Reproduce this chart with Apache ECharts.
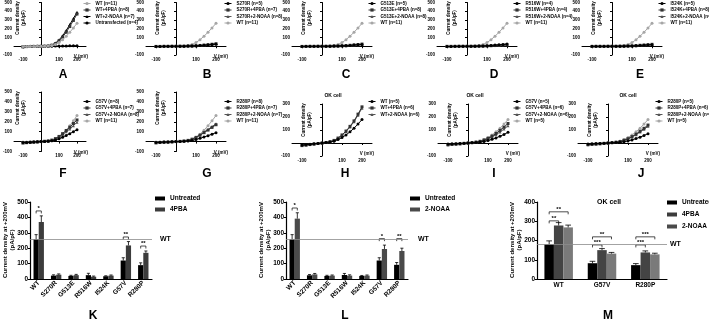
<!DOCTYPE html>
<html>
<head>
<meta charset="UTF-8">
<script src="https://cdn.jsdelivr.net/npm/echarts/dist/echarts.min.js"></script>
<style>
html, body { margin: 0; padding: 0; background: #fff; }
#main { width: 709px; height: 321px; }
</style>
</head>
<body>
<div id="main"></div>
<script type="text/javascript">
// membrane potential steps (mV)
var volts = [-100, -80, -60, -40, -20, 0, 20, 40, 60, 80, 100, 120, 140, 160, 180, 200];

// HEK cells, current density (pA/pF)
var wt11 = [-4, -3, -2, -2, -1, 0, 1, 3, 8, 20, 42, 75, 115, 160, 210, 262];
var wt4pba = [-5, -4, -3, -2, -1, 0, 1, 4, 12, 30, 62, 105, 160, 225, 295, 368];
var wt2noaa = [-5, -4, -3, -2, -1, 0, 2, 5, 15, 36, 72, 120, 180, 248, 318, 388];
var untransfected = [-2, -2, -1, -1, 0, 0, 0, 1, 1, 2, 2, 3, 4, 5, 6, 7];

var s270r = [-2, -2, -1, -1, 0, 0, 0, 1, 2, 3, 5, 8, 11, 15, 19, 24];
var s270r4pba = [-2, -2, -1, -1, 0, 0, 1, 1, 2, 4, 6, 9, 13, 18, 23, 29];
var s270r2noaa = [-2, -2, -1, -1, 0, 0, 1, 1, 2, 4, 7, 10, 14, 19, 24, 30];
var g513e = [-2, -1, -1, -1, 0, 0, 0, 1, 2, 3, 5, 7, 10, 13, 17, 21];
var g513e4pba = [-2, -2, -1, -1, 0, 0, 0, 1, 2, 3, 5, 8, 11, 15, 20, 25];
var g513e2noaa = [-2, -2, -1, -1, 0, 0, 0, 1, 2, 3, 5, 7, 10, 14, 18, 22];
var r516w = [-2, -2, -1, -1, 0, 0, 1, 1, 2, 4, 6, 9, 13, 17, 21, 26];
var r516w4pba = [-1, -1, -1, 0, 0, 0, 0, 1, 1, 2, 4, 6, 8, 10, 13, 15];
var r516w2noaa = [-2, -2, -1, -1, 0, 0, 0, 1, 2, 3, 5, 8, 11, 15, 19, 23];
var i524k = [-1, -1, -1, -1, 0, 0, 0, 1, 1, 2, 4, 6, 9, 12, 15, 18];
var i524k4pba = [-2, -1, -1, -1, 0, 0, 0, 1, 2, 3, 5, 8, 11, 14, 18, 22];
var i524k2noaa = [-2, -1, -1, -1, 0, 0, 0, 1, 2, 3, 5, 7, 10, 14, 17, 21];
var g57v = [-10, -8, -6, -4, -2, 0, 2, 4, 8, 16, 28, 44, 62, 80, 100, 120];
var g57v4pba = [-14, -11, -8, -5, -3, 0, 3, 7, 15, 30, 52, 80, 112, 145, 182, 218];
var g57v2noaa = [-12, -10, -7, -5, -2, 0, 3, 6, 13, 26, 46, 70, 98, 128, 160, 195];
var r280p = [-8, -6, -5, -3, -2, 0, 1, 3, 6, 12, 21, 33, 46, 60, 75, 90];
var r280p4pba = [-12, -9, -7, -5, -2, 0, 2, 6, 12, 24, 42, 64, 90, 116, 143, 170];
var r280p2noaa = [-12, -10, -7, -5, -2, 0, 3, 6, 13, 26, 45, 68, 95, 122, 151, 180];

// OK cells
var okWt = [-15, -12, -9, -6, -3, 0, 3, 7, 14, 26, 42, 62, 86, 114, 146, 180];
var okWt4pba = [-20, -16, -12, -8, -4, 0, 4, 10, 20, 38, 62, 92, 128, 170, 222, 278];
var okWt2noaa = [-20, -16, -12, -8, -4, 0, 4, 10, 19, 36, 60, 88, 124, 164, 214, 268];
var okG57v = [-8, -6, -5, -3, -2, 0, 2, 4, 7, 12, 19, 28, 39, 52, 66, 82];
var okG57v4pba = [-14, -11, -8, -6, -3, 0, 3, 7, 13, 23, 36, 53, 73, 97, 122, 150];
var okG57v2noaa = [-12, -10, -7, -5, -3, 0, 3, 6, 11, 20, 32, 47, 64, 85, 107, 132];
var okR280p = [-7, -6, -4, -3, -1, 0, 1, 3, 6, 10, 16, 24, 34, 45, 58, 72];
var okR280p4pba = [-13, -10, -8, -5, -3, 0, 3, 6, 12, 21, 33, 49, 68, 90, 113, 138];
var okR280p2noaa = [-12, -10, -7, -5, -3, 0, 3, 6, 11, 20, 31, 46, 64, 84, 105, 128];

// bar charts: current density at +200 mV
var kCats = ['WT', 'S270R', 'G513E', 'R516W', 'I524K', 'G57V', 'R280P'];
var kUntreated = [258, 22, 20, 25, 18, 120, 90];
var kUntreatedErr = [30, 5, 4, 12, 3, 18, 15];
var k4pba = [370, 28, 25, 15, 22, 218, 170];
var k4pbaErr = [40, 5, 5, 4, 4, 25, 12];
var kWtRef = 258;
var kSig = [[0, 442, 0, 1], [5, 273, 0, 1], [6, 214, 0, 1]];
var kSigText = ['*', '**', '**'];

var lUntreated = [258, 24, 20, 26, 20, 120, 92];
var lUntreatedErr = [30, 5, 4, 10, 3, 18, 15];
var l2noaa = [392, 30, 22, 22, 22, 195, 182];
var l2noaaErr = [38, 6, 4, 5, 4, 25, 18];
var lWtRef = 258;
var lSig = [[0, 461, 0, 1], [5, 262, 0, 1], [6, 262, 0, 1]];
var lSigText = ['*', '*', '**'];

var mCats = ['WT', 'G57V', 'R280P'];
var mUntreated = [180, 82, 72];
var mUntreatedErr = [18, 10, 8];
var m4pba = [278, 150, 138];
var m4pbaErr = [15, 8, 8];
var m2noaa = [268, 132, 128];
var m2noaaErr = [12, 6, 6];
var mWtRef = 180;
var mSig = [[0, 349, 0, 2], [0, 302, 0, 1], [1, 219, 0, 2], [1, 177, 0, 1], [2, 219, 0, 2], [2, 177, 0, 1]];
var mSigText = ['**', '**', '**', '***', '***', '***'];

var FONT = 'Liberation Sans';
var C_MUT = '#000000', C_4 = '#333333', C_2 = '#555555', C_WT = '#a6a6a6';

var grid = [], xAxis = [], yAxis = [], series = [], legend = [], graphic = [];

function pts(arr) {
    return volts.map(function (v, i) { return [v, arr[i]]; });
}

function txt(x, y, text, size, opts) {
    opts = opts || {};
    graphic.push({
        type: 'text', x: x, y: y, rotation: opts.rot || 0, silent: true,
        style: {
            text: text, font: 'bold ' + size + 'px ' + FONT, fill: '#000',
            textAlign: opts.align || 'center', align: opts.align || 'center',
            textVerticalAlign: 'middle', verticalAlign: 'middle', lineHeight: size + 1
        }
    });
}

function addLinePanel(p) {
    var gi = grid.length;
    grid.push({left: p.x0 - 30, top: p.top, width: 80, height: p.h});
    xAxis.push({
        gridIndex: gi, type: 'value', min: -150, max: 250, interval: 50,
        axisLine: {onZero: true, lineStyle: {color: '#000', width: 1}},
        axisTick: {customValues: [-100, 0, 100, 200], length: 2, lineStyle: {color: '#000'}},
        axisLabel: {customValues: [-100, 100, 200], fontSize: 4.5, fontWeight: 'bold', fontFamily: FONT, color: '#000', margin: 2},
        splitLine: {show: false}
    });
    yAxis.push({
        gridIndex: gi, type: 'value', min: -100, max: p.ymax, interval: 100,
        axisLine: {show: true, onZero: true, lineStyle: {color: '#000', width: 1}},
        axisTick: {show: true, length: 2, lineStyle: {color: '#000'}},
        axisLabel: {fontSize: 4.5, fontWeight: 'bold', fontFamily: FONT, color: '#000', margin: 2,
            formatter: function (v) { return v === 0 ? '' : v; }},
        splitLine: {show: false}
    });
    p.series.forEach(function (s, k) {
        series.push({
            type: 'line', name: s[0], xAxisIndex: gi, yAxisIndex: gi, data: pts(s[1]),
            symbol: s[3], symbolSize: 3, showSymbol: true, animation: false,
            lineStyle: {width: 1, color: s[2]}, itemStyle: {color: s[2]}, z: 5 - k
        });
    });
    legend.push({
        orient: 'vertical', left: p.legX, top: p.legY, padding: 0,
        itemWidth: 7, itemHeight: 4, itemGap: 1.5, selectedMode: false,
        textStyle: {fontSize: 4.5, fontWeight: 'bold', fontFamily: FONT, color: '#000'},
        data: p.series.map(function (s) {
            return {name: s[0], itemStyle: {color: s[2]}, lineStyle: {color: s[2], width: 1}};
        })
    });
    var y0 = p.top + p.h * p.ymax / (p.ymax + 100);
    txt(p.x0 - 15, p.top + 16, 'Current density\n(pA/pF)', 4.5, {rot: Math.PI / 2});
    txt(p.x0 + 52, y0 + 11, 'V (mV)', 4.5, {align: 'right'});
    txt(p.letterX, p.letterY, p.letter, 12);
    if (p.title) txt(p.title[0], p.title[1], 'OK cell', 5);
}

function errRender(k, n, barW) {
    return function (params, api) {
        var base = api.coord([api.value(0), api.value(1)]);
        var top = api.coord([api.value(0), api.value(1) + api.value(2)]);
        var x = base[0] + (k - (n - 1) / 2) * barW;
        var cap = barW * 0.3;
        return {
            type: 'group', children: [
                {type: 'line', shape: {x1: x, y1: base[1], x2: x, y2: top[1]}, style: {stroke: '#000', lineWidth: 0.8}},
                {type: 'line', shape: {x1: x - cap, y1: top[1], x2: x + cap, y2: top[1]}, style: {stroke: '#000', lineWidth: 0.8}}
            ]
        };
    };
}

function bracketRender(n, barW, labels) {
    return function (params, api) {
        var p = api.coord([api.value(0), api.value(1)]);
        var x1 = p[0] + (api.value(2) - (n - 1) / 2) * barW;
        var x2 = p[0] + (api.value(3) - (n - 1) / 2) * barW;
        var y = p[1];
        return {
            type: 'group', children: [
                {type: 'polyline', shape: {points: [[x1, y + 2.5], [x1, y], [x2, y], [x2, y + 2.5]]},
                    style: {stroke: '#000', fill: null, lineWidth: 0.7}},
                {type: 'text', x: (x1 + x2) / 2, y: y + 0.5,
                    style: {text: labels[params.dataIndex], font: 'bold 6px ' + FONT, fill: '#000',
                        textAlign: 'center', align: 'center', textVerticalAlign: 'bottom', verticalAlign: 'bottom'}}
            ]
        };
    };
}

function addBarPanel(b) {
    var gi = grid.length;
    grid.push({left: b.left, top: b.top, width: b.width, height: b.h});
    xAxis.push({
        gridIndex: gi, type: 'category', data: b.cats,
        axisLine: {lineStyle: {color: '#000', width: 1.2}},
        axisTick: {alignWithLabel: true, length: 2, lineStyle: {color: '#000'}},
        axisLabel: {rotate: b.rotate, interval: 0, fontSize: 6.5, fontWeight: 'bold', fontFamily: FONT, color: '#000', margin: 3}
    });
    yAxis.push({
        gridIndex: gi, type: 'value', min: 0, max: b.ymax, interval: 100,
        axisLine: {show: true, lineStyle: {color: '#000', width: 1.2}},
        axisTick: {show: true, length: 2, lineStyle: {color: '#000'}},
        axisLabel: {fontSize: 6.5, fontWeight: 'bold', fontFamily: FONT, color: '#000', margin: 2},
        splitLine: {show: false}
    });
    var n = b.groups.length;
    b.groups.forEach(function (g, k) {
        var s = {
            type: 'bar', name: g[0], xAxisIndex: gi, yAxisIndex: gi, data: g[1],
            barWidth: b.barW, barGap: '0%', itemStyle: {color: g[3]}, animation: false
        };
        if (k === 0) {
            s.markLine = {
                silent: true, symbol: 'none', animation: false,
                lineStyle: {color: '#8c8c8c', width: 0.8, type: 'solid'},
                label: {show: true, position: 'end', formatter: 'WT', distance: b.wtGap,
                    fontSize: 7, fontWeight: 'bold', fontFamily: FONT, color: '#000'},
                data: [{yAxis: b.wtRef}]
            };
        }
        series.push(s);
        series.push({
            type: 'custom', xAxisIndex: gi, yAxisIndex: gi, z: 3, animation: false,
            data: g[1].map(function (v, i) { return [i, v, g[2][i]]; }),
            renderItem: errRender(k, n, b.barW)
        });
    });
    series.push({
        type: 'custom', xAxisIndex: gi, yAxisIndex: gi, z: 4, animation: false,
        data: b.sig, renderItem: bracketRender(n, b.barW, b.sigText)
    });
    legend.push({
        orient: 'vertical', left: b.legX, top: b.legY, padding: 0, icon: 'rect',
        itemWidth: 10, itemHeight: 4, itemGap: b.legGap, selectedMode: false,
        textStyle: {fontSize: 6.5, fontWeight: 'bold', fontFamily: FONT, color: '#000'},
        data: b.groups.map(function (g) { return g[0]; })
    });
    txt(b.left - 21, b.top + 38, 'Current density at +200mV\n(pA/pF)', 6, {rot: Math.PI / 2});
    txt(b.letterX, 316, b.letter, 12);
    if (b.title) txt(b.title[0], b.title[1], 'OK cell', 7);
}

var linePanels = [
    {letter: 'A', x0: 36, top: 2, h: 53, ymax: 500, legX: 83, legY: 1, letterX: 63, letterY: 75, series: [
        ['WT (n=11)', wt11, C_WT, 'circle'], ['WT+4PBA (n=8)', wt4pba, C_4, 'rect'],
        ['WT+2-NOAA (n=7)', wt2noaa, C_MUT, 'triangle'], ['Untransfected (n=4)', untransfected, C_MUT, 'circle']]},
    {letter: 'B', x0: 176, top: 2, h: 53, ymax: 500, legX: 224, legY: 1, letterX: 207, letterY: 75, series: [
        ['S270R (n=5)', s270r, C_MUT, 'circle'], ['S270R+4PBA (n=7)', s270r4pba, C_4, 'rect'],
        ['S270R+2-NOAA (n=8)', s270r2noaa, C_2, 'triangle'], ['WT (n=11)', wt11, C_WT, 'circle']]},
    {letter: 'C', x0: 322, top: 2, h: 53, ymax: 500, legX: 368, legY: 1, letterX: 346, letterY: 75, series: [
        ['G513E (n=5)', g513e, C_MUT, 'circle'], ['G513E+4PBA (n=8)', g513e4pba, C_4, 'rect'],
        ['G513E+2-NOAA (n=8)', g513e2noaa, C_2, 'triangle'], ['WT (n=11)', wt11, C_WT, 'circle']]},
    {letter: 'D', x0: 467, top: 2, h: 53, ymax: 500, legX: 513, legY: 1, letterX: 494, letterY: 75, series: [
        ['R516W (n=4)', r516w, C_MUT, 'circle'], ['R516W+4PBA (n=4)', r516w4pba, C_4, 'rect'],
        ['R516W+2-NOAA (n=4)', r516w2noaa, C_2, 'triangle'], ['WT (n=11)', wt11, C_WT, 'circle']]},
    {letter: 'E', x0: 612, top: 2, h: 53, ymax: 500, legX: 658, legY: 1, letterX: 640, letterY: 75, series: [
        ['I524K (n=5)', i524k, C_MUT, 'circle'], ['I524K+4PBA (n=8)', i524k4pba, C_4, 'rect'],
        ['I524K+2-NOAA (n=8)', i524k2noaa, C_2, 'triangle'], ['WT (n=11)', wt11, C_WT, 'circle']]},
    {letter: 'F', x0: 36, top: 92, h: 59.5, ymax: 500, legX: 83, legY: 99, letterX: 63, letterY: 174, series: [
        ['G57V (n=8)', g57v, C_MUT, 'circle'], ['G57V+4PBA (n=7)', g57v4pba, C_4, 'rect'],
        ['G57V+2-NOAA (n=8)', g57v2noaa, C_2, 'triangle'], ['WT (n=11)', wt11, C_WT, 'circle']]},
    {letter: 'G', x0: 176, top: 92, h: 59.5, ymax: 500, legX: 224, legY: 99, letterX: 207, letterY: 174, series: [
        ['R280P (n=8)', r280p, C_MUT, 'circle'], ['R280P+4PBA (n=7)', r280p4pba, C_4, 'rect'],
        ['R280P+2-NOAA (n=7)', r280p2noaa, C_2, 'triangle'], ['WT (n=11)', wt11, C_WT, 'circle']]},
    {letter: 'H', x0: 322, top: 104, h: 52, ymax: 300, legX: 368, legY: 99, letterX: 345, letterY: 174, title: [333, 96], series: [
        ['WT (n=5)', okWt, C_MUT, 'circle'], ['WT+4PBA (n=6)', okWt4pba, C_4, 'rect'],
        ['WT+2-NOAA (n=6)', okWt2noaa, C_2, 'triangle']]},
    {letter: 'I', x0: 468, top: 104, h: 52, ymax: 300, legX: 513, legY: 99, letterX: 494, letterY: 174, title: [475, 96], series: [
        ['G57V (n=5)', okG57v, C_MUT, 'circle'], ['G57V+4PBA (n=6)', okG57v4pba, C_4, 'rect'],
        ['G57V+2-NOAA (n=6)', okG57v2noaa, C_2, 'triangle'], ['WT (n=5)', okWt, C_WT, 'circle']]},
    {letter: 'J', x0: 608, top: 104, h: 52, ymax: 300, legX: 655, legY: 99, letterX: 641, letterY: 174, title: [628, 96], series: [
        ['R280P (n=5)', okR280p, C_MUT, 'circle'], ['R280P+4PBA (n=6)', okR280p4pba, C_4, 'rect'],
        ['R280P+2-NOAA (n=6)', okR280p2noaa, C_2, 'triangle'], ['WT (n=5)', okWt, C_WT, 'circle']]}
];
linePanels.forEach(addLinePanel);

addBarPanel({letter: 'K', letterX: 93, left: 30, top: 202, width: 122, h: 77, ymax: 500, rotate: 45, barW: 5.2,
    cats: kCats, wtRef: kWtRef, wtGap: 8, sig: kSig, sigText: kSigText, legX: 155, legY: 195, legGap: 4,
    groups: [['Untreated', kUntreated, kUntreatedErr, '#000'], ['4PBA', k4pba, k4pbaErr, '#3c3c3c']]});
addBarPanel({letter: 'L', letterX: 345, left: 286, top: 202, width: 122, h: 77, ymax: 500, rotate: 45, barW: 5.2,
    cats: kCats, wtRef: lWtRef, wtGap: 10, sig: lSig, sigText: lSigText, legX: 410, legY: 195, legGap: 4,
    groups: [['Untreated', lUntreated, lUntreatedErr, '#000'], ['2-NOAA', l2noaa, l2noaaErr, '#4a4a4a']]});
addBarPanel({letter: 'M', letterX: 608, left: 537, top: 202, width: 130, h: 77, ymax: 400, rotate: 0, barW: 9.5,
    cats: mCats, wtRef: mWtRef, wtGap: 3, sig: mSig, sigText: mSigText, legX: 667, legY: 199, legGap: 5, title: [609, 202],
    groups: [['Untreated', mUntreated, mUntreatedErr, '#000'], ['4PBA', m4pba, m4pbaErr, '#444'], ['2-NOAA', m2noaa, m2noaaErr, '#7a7a7a']]});

var myChart = echarts.init(document.getElementById('main'));
myChart.setOption({
    animation: false,
    backgroundColor: '#fff',
    grid: grid,
    xAxis: xAxis,
    yAxis: yAxis,
    legend: legend,
    series: series,
    graphic: graphic
});
</script>
</body>
</html>
